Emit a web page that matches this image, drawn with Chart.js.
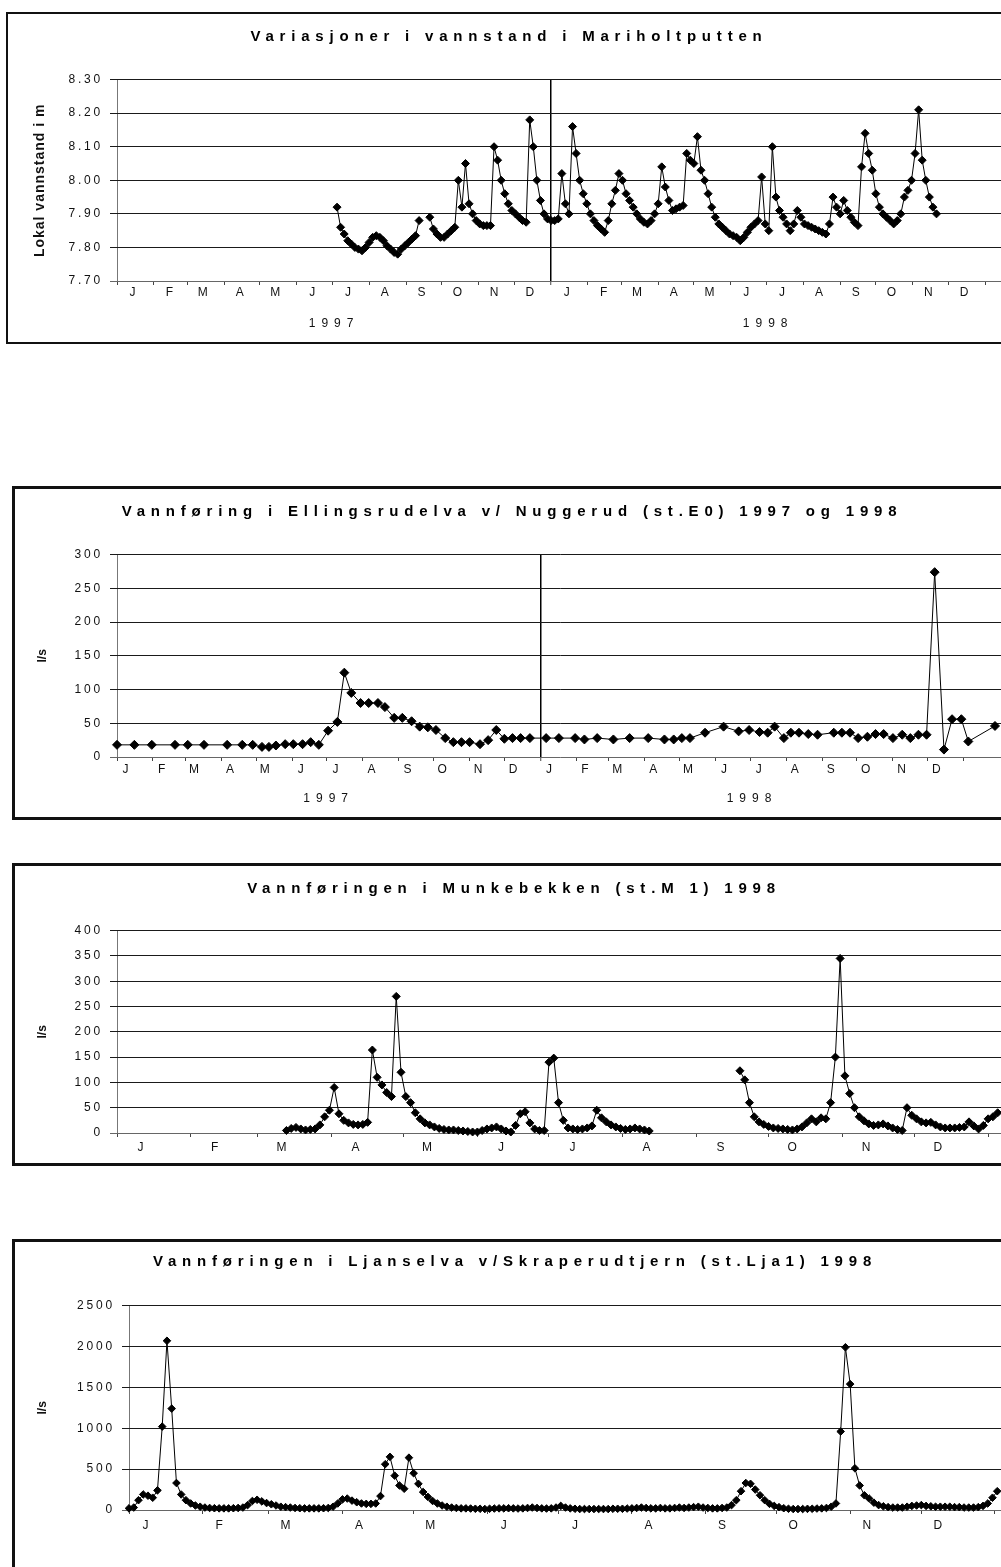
<!DOCTYPE html>
<html>
<head>
<meta charset="utf-8">
<title>Vannstand og vannføring 1997-1998</title>
<script src="https://cdn.jsdelivr.net/npm/chart.js@4.4.1/dist/chart.umd.min.js"></script>
<style>
html, body { margin: 0; padding: 0; background: #fff; overflow: hidden; }
body { width: 1001px; height: 1567px; position: relative; }
.box { position: absolute; border: 2px solid #111; box-sizing: border-box; }
canvas { position: absolute; }
</style>
</head>
<body>
<div class="box" style="left:6px;top:12px;width:1100px;height:332px"></div>
<canvas id="c1" style="left:8px;top:14px" width="1002" height="327"></canvas>

<div class="box" style="left:12px;top:486px;width:1100px;height:334px;border-width:3px"></div>
<canvas id="c2" style="left:14px;top:489px" width="996" height="328"></canvas>

<div class="box" style="left:12px;top:863px;width:1100px;height:303px;border-width:3px"></div>
<canvas id="c3" style="left:14px;top:866px" width="1000" height="297"></canvas>

<div class="box" style="left:12px;top:1239px;width:1100px;height:400px;border-width:3px"></div>
<canvas id="c4" style="left:14px;top:1242px" width="1002" height="325"></canvas>

<script>
const monthLetters = ['J', 'F', 'M', 'A', 'M', 'J', 'J', 'A', 'S', 'O', 'N', 'D'];
const monthLengths = [31, 28, 31, 30, 31, 30, 31, 31, 30, 31, 30, 31];
const yearLabels = ['1997', '1998'];

// Mariholtputten, lokal vannstand (m), every 3rd day from day 185 of 1997
const mhStartDay = 185;
const mhStepDays = 3;
const mhLevel = [
    7.92, 7.86, 7.84, 7.82, 7.81, 7.80, 7.795, 7.79, 7.80, 7.815,      // day 185
    7.83, 7.835, 7.83, 7.82, 7.805, 7.795, 7.785, 7.78, 7.795, 7.805,  // day 215
    7.815, 7.825, 7.835, 7.88, null, null, 7.89, 7.855, 7.84, 7.83,    // day 245
    7.83, 7.84, 7.85, 7.86, 8.00, 7.92, 8.05, 7.93, 7.90, 7.88,        // day 275
    7.87, 7.865, 7.865, 7.865, 8.10, 8.06, 8.00, 7.96, 7.93, 7.91,     // day 305
    7.90, 7.89, 7.88, 7.875, 8.18, 8.10, 8.00, 7.94, 7.90, 7.885,      // day 335
    7.88, 7.88, 7.885, 8.02, 7.93, 7.90, 8.16, 8.08, 8.00, 7.96,       // day 365
    7.93, 7.90, 7.88, 7.865, 7.855, 7.845, 7.88, 7.93, 7.97, 8.02,     // day 395
    8.00, 7.96, 7.94, 7.92, 7.90, 7.885, 7.875, 7.87, 7.88, 7.90,      // day 425
    7.93, 8.04, 7.98, 7.94, 7.91, 7.915, 7.92, 7.925, 8.08, 8.06,      // day 455
    8.05, 8.13, 8.03, 8.00, 7.96, 7.92, 7.89, 7.87, 7.86, 7.85,        // day 485
    7.84, 7.835, 7.83, 7.82, 7.83, 7.845, 7.86, 7.87, 7.88, 8.01,      // day 515
    7.87, 7.85, 8.10, 7.95, 7.91, 7.89, 7.87, 7.85, 7.87, 7.91,        // day 545
    7.89, 7.87, 7.865, 7.86, 7.855, 7.85, 7.845, 7.84, 7.87, 7.95,     // day 575
    7.92, 7.90, 7.94, 7.91, 7.89, 7.875, 7.865, 8.04, 8.14, 8.08,      // day 605
    8.03, 7.96, 7.92, 7.90, 7.89, 7.88, 7.87, 7.88, 7.90, 7.95,        // day 635
    7.97, 8.00, 8.08, 8.21, 8.06, 8.00, 7.95, 7.92, 7.90               // day 665
];

// Ellingsrudelva st.E0, day counted from 1 Jan 1997, vannføring l/s
const e0Days = [
    0, 15, 30, 50, 61, 75, 95, 108, 117, 125, 131, 137, 145, 152, 160, 167, 174,
    182, 190, 196, 202, 210, 217, 225, 231, 239, 246, 254, 261, 268, 275, 283, 290,
    297, 304, 313, 320, 327, 334, 341, 348, 356, 370, 381, 395, 403, 414, 428, 442,
    458, 472, 480, 487, 494, 507, 523, 536, 545, 554, 561, 567, 575, 581, 588, 596,
    604, 618, 625, 632, 639, 647, 654, 661, 669, 677, 684, 691, 698, 705, 713, 720,
    728, 734, 757
];
const e0Flow = [
    18, 18, 18, 18, 18, 18, 18, 18, 18, 15, 15, 17, 19, 19, 19, 22, 18,
    39, 52, 125, 95, 80, 80, 80, 74, 58, 58, 53, 45, 44, 40, 28, 22,
    22, 22, 19, 25, 40, 27, 28, 28, 28, 28, 28, 28, 26, 28, 26, 28,
    28, 26, 26, 28, 28, 36, 45, 38, 40, 37, 36, 45, 28, 36, 36, 34,
    33, 36, 36, 36, 28, 30, 34, 34, 28, 33, 28, 33, 33, 274, 11, 56,
    56, 23, 46
];

// Munkebekken st.M1 1998, l/s, every 2nd day from day 71
const m1StartDay = 71;
const m1StepDays = 2;
const m1Flow = [
    5, 9, 11, 8, 6, 7, 8, 16, 32, 45,                          // day 71
    90, 38, 25, 20, 17, 16, 17, 21, 164, 110,                  // day 91
    95, 80, 72, 270, 120, 72, 60, 40, 28, 20,                  // day 111
    16, 12, 9, 7, 6, 6, 5, 4, 3, 2,                            // day 131
    2, 5, 8, 10, 12, 8, 4, 2, 15, 38,                          // day 151
    42, 20, 8, 5, 5, 140, 148, 60, 25, 10,                     // day 171
    8, 7, 8, 10, 14, 45, 30, 22, 16, 12,                       // day 191
    9, 7, 8, 10, 8, 6, 4, null, null, null,                    // day 211
    null, null, null, null, null, null, null, null, null, null, // day 231
    null, null, null, null, null, 123, 105, 60, 32, 22,        // day 251
    17, 13, 10, 9, 8, 7, 6, 8, 12, 20,                         // day 271
    28, 22, 30, 28, 60, 150, 345, 113, 78, 50,                 // day 291
    32, 24, 18, 15, 16, 18, 14, 10, 7, 5,                      // day 311
    50, 35, 28, 22, 20, 21, 16, 12, 10, 10,                    // day 331
    10, 11, 12, 22, 14, 8, 15, 28, 32, 40                      // day 351
];

// Ljanselva st.Lja1 1998, l/s, every 2nd day from 1 Jan
const ljaStartDay = 0;
const ljaStepDays = 2;
const ljaFlow = [
    20, 30, 120, 190, 175, 150, 240, 1020, 2070, 1240,   // day 0
    330, 190, 120, 80, 55, 40, 30, 25, 22, 20,           // day 20
    20, 20, 22, 25, 30, 60, 110, 125, 105, 85,           // day 40
    70, 55, 40, 35, 30, 25, 22, 20, 20, 20,              // day 60
    20, 22, 25, 40, 80, 130, 140, 115, 95, 80,           // day 80
    75, 75, 80, 170, 560, 650, 420, 300, 260, 640,       // day 100
    450, 320, 220, 160, 110, 80, 55, 40, 30, 25,         // day 120
    20, 20, 18, 15, 15, 12, 15, 18, 20, 20,              // day 140
    22, 20, 18, 20, 25, 30, 25, 20, 18, 20,              // day 160
    30, 50, 30, 20, 15, 12, 12, 12, 12, 12,              // day 180
    12, 12, 15, 15, 15, 18, 20, 25, 30, 25,              // day 200
    20, 20, 25, 20, 20, 25, 30, 25, 30, 35,              // day 220
    40, 30, 25, 20, 20, 25, 30, 60, 120, 230,            // day 240
    330, 320, 250, 180, 120, 75, 50, 35, 22, 15,         // day 260
    12, 12, 12, 14, 15, 18, 20, 25, 40, 80,              // day 280
    960, 1990, 1540, 510, 300, 180, 140, 90, 60, 45,     // day 300
    35, 30, 30, 30, 40, 50, 55, 60, 50, 45,              // day 320
    40, 40, 40, 40, 35, 35, 30, 30, 30, 35,              // day 340
    50, 80, 150, 230                                     // day 360
];

Chart.defaults.font.family = "'Liberation Sans', Arial, sans-serif";
Chart.defaults.color = '#111';

function monthStarts(years) {
    const out = [0];
    for (let y = 0; y < years; y++) {
        monthLengths.forEach(n => out.push(out[out.length - 1] + n));
    }
    return out;
}

function wrapSpacing(chart, obj, fn, sp) {
    if (!obj || obj['_sp_' + fn]) return;
    const orig = obj[fn];
    obj[fn] = function () {
        const prev = chart.ctx.letterSpacing;
        chart.ctx.letterSpacing = sp;
        orig.apply(this, arguments);
        chart.ctx.letterSpacing = prev;
    };
    obj['_sp_' + fn] = true;
}

// wide letter spacing like the scanned Excel charts
const spacing = {
    id: 'spacing',
    beforeDraw(chart, args, opts) {
        chart.ctx.letterSpacing = opts.ticks;
        wrapSpacing(chart, chart.titleBlock, 'draw', opts.title);
        wrapSpacing(chart, chart.scales.y, 'drawTitle', opts.axisTitle);
        wrapSpacing(chart, chart.scales.yr, 'drawLabels', opts.years);
    }
};

function makeChart(id, o) {
    const ticks = monthStarts(o.years);
    const scales = {
        x: {
            type: 'linear', position: 'bottom', min: 0, max: o.xMax,
            afterBuildTicks: s => { s.ticks = ticks.map(v => ({value: v})); },
            afterFit: s => { s.height = o.monthHeight; s.paddingLeft = 0; s.paddingRight = 0; },
            grid: {
                drawOnChartArea: true, drawTicks: true, tickLength: 4, tickColor: '#444', tickWidth: 1,
                color: c => c.tick.value === 0 ? '#777' : (o.years === 2 && c.tick.value === 365 ? '#000' : 'rgba(0,0,0,0)'),
                lineWidth: c => (o.years === 2 && c.tick.value === 365) ? 1.5 : 1
            },
            border: {display: false},
            ticks: {
                autoSkip: false, maxRotation: 0, minRotation: 0,
                labelOffset: o.labelOffset, padding: o.labelPad, color: '#111', font: {size: 12},
                callback: (v, i) => i < ticks.length - 1 ? monthLetters[i % 12] : ''
            }
        },
        y: {
            min: o.yMin, max: o.yMax,
            afterFit: s => { s.width = o.yWidth; },
            grid: {
                color: c => Math.abs(c.tick.value - o.yMin) < 1e-6 ? '#666' : '#1a1a1a',
                lineWidth: 1, tickLength: 7, drawTicks: true
            },
            border: {display: false},
            ticks: {stepSize: o.yStep, padding: 7, color: '#111', font: {size: 12}, callback: o.yFmt},
            title: {
                display: true, text: o.yTitle, color: '#111',
                font: {size: o.yTitleSize, weight: 'bold'},
                padding: {top: o.yTitlePad, bottom: 0}
            }
        }
    };
    if (o.years === 2) {
        scales.yr = {
            type: 'linear', position: 'bottom', min: 0, max: o.xMax,
            afterBuildTicks: s => { s.ticks = yearLabels.map((t, i) => ({value: 182.5 + 365 * i})); },
            afterFit: s => { s.height = o.yearHeight; s.paddingLeft = 0; s.paddingRight = 0; },
            grid: {display: false},
            border: {display: false},
            ticks: {
                autoSkip: false, maxRotation: 0, padding: o.yearPad, color: '#111', font: {size: 12},
                callback: (v, i) => yearLabels[i]
            }
        };
    }
    return new Chart(document.getElementById(id), {
        type: 'line',
        data: {
            datasets: [{
                data: o.points,
                borderColor: '#000',
                borderWidth: 1,
                backgroundColor: '#000',
                pointStyle: 'rectRot',
                pointRadius: o.radius,
                pointBackgroundColor: '#000',
                pointBorderColor: '#000',
                pointBorderWidth: 1,
                tension: 0,
                spanGaps: false,
                clip: 8
            }]
        },
        options: {
            responsive: false,
            animation: false,
            devicePixelRatio: 1,
            layout: {padding: 0},
            scales: scales,
            plugins: {
                legend: {display: false},
                tooltip: {enabled: false},
                title: {
                    display: true, text: o.title, color: '#000',
                    font: {size: 15, weight: 'bold'},
                    padding: {top: o.titlePad[0], bottom: o.titlePad[1]}
                },
                spacing: {ticks: '2.8px', title: '5.8px', axisTitle: o.yTitleSpacing, years: '6px'}
            }
        },
        plugins: [spacing]
    });
}

makeChart('c1', {
    title: 'Variasjoner i vannstand i Mariholtputten',
    titlePad: [14, 33.6],
    yTitle: 'Lokal vannstand i m', yTitleSize: 14, yTitlePad: 23.6, yTitleSpacing: '1px',
    yWidth: 109, yMin: 7.7, yMax: 8.3, yStep: 0.1, yFmt: v => v.toFixed(2),
    xMax: 746.6, years: 2, labelOffset: 17, labelPad: 0,
    monthHeight: 20, yearHeight: 40, yearPad: 7, radius: 4,
    points: mhLevel.map((v, i) => ({x: mhStartDay + i * mhStepDays, y: v}))
});

makeChart('c2', {
    title: 'Vannføring i Ellingsrudelva v/ Nuggerud (st.E0) 1997 og 1998',
    titlePad: [14, 33.6],
    yTitle: 'l/s', yTitleSize: 12, yTitlePad: 21.8, yTitleSpacing: '0px',
    yWidth: 103, yMin: 0, yMax: 300, yStep: 50, yFmt: v => v,
    xMax: 765.2, years: 2, labelOffset: 10, labelPad: 1,
    monthHeight: 20, yearHeight: 40, yearPad: 6, radius: 4.5,
    points: e0Days.map((d, i) => ({x: d, y: e0Flow[i]}))
});

makeChart('c3', {
    title: 'Vannføringen i Munkebekken (st.M 1) 1998',
    titlePad: [14, 32.6],
    yTitle: 'l/s', yTitleSize: 12, yTitlePad: 21.8, yTitleSpacing: '0px',
    yWidth: 103, yMin: 0, yMax: 400, yStep: 50, yFmt: v => v,
    xMax: 373.75, years: 1, labelOffset: 25, labelPad: 3,
    monthHeight: 30, radius: 4,
    points: m1Flow.map((v, i) => ({x: m1StartDay + i * m1StepDays, y: v}))
});

makeChart('c4', {
    title: 'Vannføringen i Ljanselva v/Skraperudtjern (st.Lja1) 1998',
    titlePad: [11, 34.6],
    yTitle: 'l/s', yTitleSize: 12, yTitlePad: 21.8, yTitleSpacing: '0px',
    yWidth: 115, yMin: 0, yMax: 2500, yStep: 500, yFmt: v => v,
    xMax: 371.8, years: 1, labelOffset: 18, labelPad: 4,
    monthHeight: 57, radius: 3.8,
    points: ljaFlow.map((v, i) => ({x: ljaStartDay + i * ljaStepDays, y: v}))
});
</script>
</body>
</html>
